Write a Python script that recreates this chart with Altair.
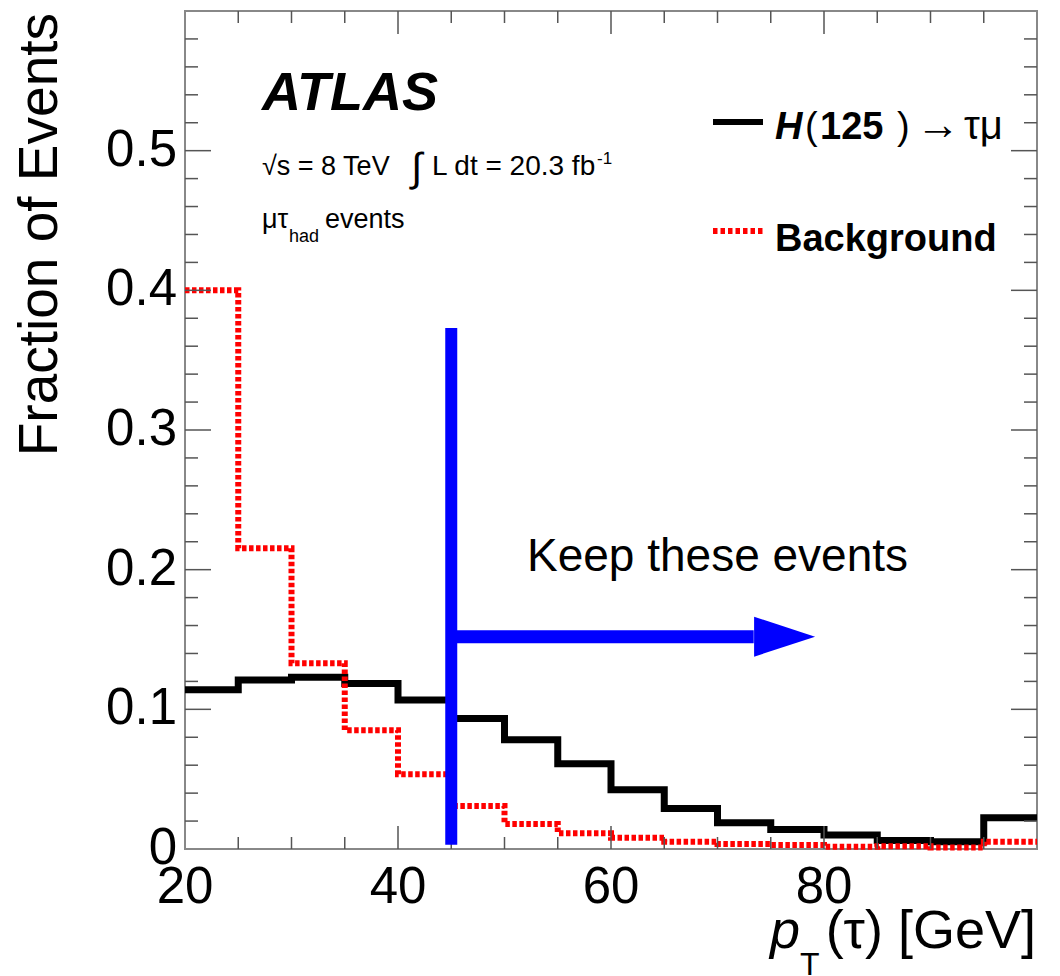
import altair as alt
import pandas as pd

# ---------------- data ----------------
bin_edges = [20, 25, 30, 35, 40, 45, 50, 55, 60, 65, 70, 75, 80, 85, 90, 95]
signal = [0.114, 0.121, 0.123, 0.1185, 0.1066, 0.0934, 0.0783, 0.0611,
          0.0425, 0.029, 0.0188, 0.014, 0.010, 0.006, 0.0052, 0.0224]
background = [0.400, 0.2153, 0.133, 0.0851, 0.0536, 0.0308, 0.0179, 0.0112,
              0.0080, 0.0052, 0.0036, 0.0029, 0.0017, 0.0019, 0.0010, 0.0052]
x_end = 100

cut_value = 45
cut_top = 0.373
cut_bottom = 0.003
arrow_y = 0.152
arrow_shaft_end = 73.4
arrow_head_center = 76.3

x_tick_labels = [20, 40, 60, 80]
y_tick_values = [0, 0.1, 0.2, 0.3, 0.4, 0.5]
y_tick_text = ["0", "0.1", "0.2", "0.3", "0.4", "0.5"]
x_major = [40, 60, 80]
x_minor = [25, 30, 35, 45, 50, 55, 65, 70, 75, 85, 90, 95]
y_major = [0.1, 0.2, 0.3, 0.4, 0.5]
y_minor = [0.02, 0.04, 0.06, 0.08, 0.12, 0.14, 0.16, 0.18, 0.22, 0.24, 0.26, 0.28,
           0.32, 0.34, 0.36, 0.38, 0.42, 0.44, 0.46, 0.48, 0.52, 0.54, 0.56, 0.58]

y_title = "Fraction of Events"
atlas_label = "ATLAS"
lumi_a = "√s = 8 TeV"
lumi_int = "∫"
lumi_b = "L dt = 20.3 fb"
lumi_sup = "-1"
chan_a = "μτ"
chan_sub = "had"
chan_b = "events"
leg_sig = ["H", "(", "125", ")", "→", "τμ"]
leg_bkg = "Background"
keep_label = "Keep these events"
xt_p = "p"
xt_T = "T"
xt_rest = "(τ) [GeV]"

# ---------------- layout ----------------
W, H = 852, 838
FONT = "Liberation Sans"
TICK = "#555555"

xs = alt.Scale(domain=[20, 100], nice=False, zero=False)
ys = alt.Scale(domain=[0, 0.6], nice=False, zero=False)


def step_df(values):
    return pd.DataFrame({"pt": bin_edges + [x_end], "frac": values + [values[-1]]})


sig_line = alt.Chart(step_df(signal)).mark_line(
    interpolate="step-after", color="black", strokeWidth=7, strokeCap="butt"
).encode(
    x=alt.X("pt:Q", scale=xs, axis=None),
    y=alt.Y("frac:Q", scale=ys, axis=None),
)

bkg_line = alt.Chart(step_df(background)).mark_line(
    interpolate="step-after", color="#ff0000", strokeWidth=6, strokeDash=[4.5, 2.5],
    strokeCap="butt"
).encode(
    x=alt.X("pt:Q", scale=xs, axis=None),
    y=alt.Y("frac:Q", scale=ys, axis=None),
)

cut_df = pd.DataFrame({"x": [cut_value], "y": [cut_bottom], "y2": [cut_top]})
cut_rule = alt.Chart(cut_df).mark_rule(color="#0000ff", strokeWidth=12).encode(
    x=alt.X("x:Q", scale=xs, axis=None),
    y=alt.Y("y:Q", scale=ys, axis=None),
    y2="y2:Q",
)

shaft_df = pd.DataFrame({"x": [cut_value], "x2": [arrow_shaft_end], "y": [arrow_y]})
shaft = alt.Chart(shaft_df).mark_rule(color="#0000ff", strokeWidth=13).encode(
    x=alt.X("x:Q", scale=xs, axis=None),
    x2="x2:Q",
    y=alt.Y("y:Q", scale=ys, axis=None),
)

head_df = pd.DataFrame({"x": [arrow_head_center], "y": [arrow_y]})
head = alt.Chart(head_df).mark_point(
    shape="M -1 -0.656 L 1 0 L -1 0.656 Z", size=3721, filled=True,
    color="#0000ff", opacity=1, strokeWidth=0
).encode(
    x=alt.X("x:Q", scale=xs, axis=None),
    y=alt.Y("y:Q", scale=ys, axis=None),
)


def tick_layer(vals, side, length):
    df = pd.DataFrame({"v": vals})
    base = alt.Chart(df).mark_rule(color=TICK, strokeWidth=1.5)
    if side == "bottom":
        return base.encode(x=alt.X("v:Q", scale=xs, axis=None),
                           y=alt.value(H), y2=alt.value(H - length))
    if side == "top":
        return base.encode(x=alt.X("v:Q", scale=xs, axis=None),
                           y=alt.value(0), y2=alt.value(length))
    if side == "left":
        return base.encode(y=alt.Y("v:Q", scale=ys, axis=None),
                           x=alt.value(0), x2=alt.value(length))
    return base.encode(y=alt.Y("v:Q", scale=ys, axis=None),
                       x=alt.value(W), x2=alt.value(W - length))


ticks = [
    tick_layer(x_major, "bottom", 23), tick_layer(x_minor, "bottom", 12),
    tick_layer(x_major, "top", 23), tick_layer(x_minor, "top", 12),
    tick_layer(y_major, "left", 26), tick_layer(y_minor, "left", 13),
    tick_layer(y_major, "right", 26), tick_layer(y_minor, "right", 13),
]

# tick labels (through the scales)
x_labels = alt.Chart(pd.DataFrame({"v": x_tick_labels})).mark_text(
    font=FONT, fontSize=51, align="center", baseline="alphabetic", color="black"
).encode(
    x=alt.X("v:Q", scale=xs, axis=None),
    y=alt.value(892),
    text=alt.Text("v:Q", format="d"),
)

y_labels = alt.Chart(pd.DataFrame({"v": y_tick_values, "lab": y_tick_text})).mark_text(
    font=FONT, fontSize=51, align="right", baseline="middle", color="black"
).encode(
    y=alt.Y("v:Q", scale=ys, axis=None),
    x=alt.value(-8),
    text="lab:N",
)


def text_layer(label, x, y, size, weight="normal", style="normal", align="left", angle=0):
    df = pd.DataFrame({"t": [label]})
    return alt.Chart(df).mark_text(
        font=FONT, fontSize=size, fontWeight=weight, fontStyle=style,
        align=align, baseline="alphabetic", color="black", angle=angle
    ).encode(text="t:N", x=alt.value(x), y=alt.value(y))


texts = [
    text_layer(y_title, -128, 2, 55, align="right", angle=270),
    text_layer(atlas_label, 77, 99, 54, "bold", "italic"),
    text_layer(lumi_a, 77, 164, 27),
    text_layer(lumi_int, 226, 170, 40),
    text_layer(lumi_b, 247, 164, 28),
    text_layer(lumi_sup, 412, 153, 17),
    text_layer(chan_a, 77, 217, 27),
    text_layer(chan_sub, 104, 231, 18),
    text_layer(chan_b, 140, 217, 27),
    # legend
    text_layer(leg_sig[0], 590, 128, 38, "bold", "italic"),
    text_layer(leg_sig[1], 620, 128, 38),
    text_layer(leg_sig[2], 635, 128, 38, "bold"),
    text_layer(leg_sig[3], 712, 128, 38),
    text_layer(leg_sig[4], 731, 128, 44),
    text_layer(leg_sig[5], 779, 128, 40),
    text_layer(leg_bkg, 590, 240, 38, "bold"),
    # annotation
    text_layer(keep_label, 342, 560, 46),
    # x title
    text_layer(xt_p, 585, 937, 54, "normal", "italic"),
    text_layer(xt_T, 615, 964, 32),
    text_layer(xt_rest, 851, 937, 54, align="right"),
]

leg_df = pd.DataFrame({"k": [0]})
leg_sig_line = alt.Chart(leg_df).mark_rule(color="black", strokeWidth=6).encode(
    x=alt.value(528), x2=alt.value(578), y=alt.value(111))
leg_bkg_line = alt.Chart(leg_df).mark_rule(
    color="#ff0000", strokeWidth=6, strokeDash=[4.5, 3]).encode(
    x=alt.value(528), x2=alt.value(578), y=alt.value(220))

chart = alt.layer(
    sig_line, bkg_line, *ticks, cut_rule, shaft, head,
    leg_sig_line, leg_bkg_line, x_labels, y_labels, *texts
).properties(
    width=W, height=H,
    padding={"left": 185, "top": 11, "right": 23, "bottom": 127},
    autosize=alt.AutoSizeParams(type="none"),
    background="white",
).configure_view(
    stroke="#888888", strokeWidth=2
)

chart.save("out.html", embed_options={"renderer": "svg", "actions": False})
